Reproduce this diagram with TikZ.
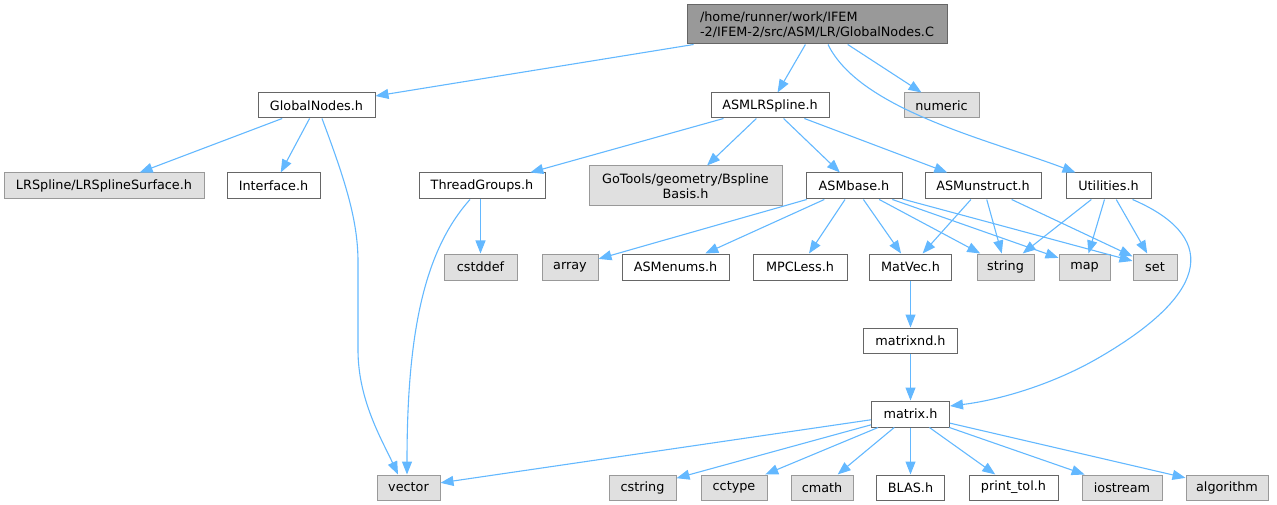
\documentclass[tikz,border=0pt]{standalone}
\usepackage{fontspec}
\setmainfont{DejaVu Sans}
\usetikzlibrary{arrows.meta}
\definecolor{edgecol}{HTML}{63B8FF}
\definecolor{sysfill}{HTML}{E0E0E0}
\definecolor{sysdraw}{HTML}{999999}
\definecolor{filedraw}{HTML}{666666}
\definecolor{mainfill}{HTML}{999999}
\begin{document}
\begin{tikzpicture}[x=1pt,y=-1pt,
  box/.style={draw=filedraw, fill=white, line width=1pt, inner sep=0pt,
    font=\fontsize{12.8}{15}\selectfont, minimum height=25pt},
  sys/.style={box, draw=sysdraw, fill=sysfill},
  mainbox/.style={box, fill=mainfill, draw=filedraw},
  dep/.style={draw=edgecol, line width=1.1pt, -{Triangle[length=13pt,width=10pt]}},
]
\useasboundingbox (0,0) rectangle (1277,505);
% row 0
\node[mainbox, minimum width=260pt, minimum height=39pt, align=left] (c) at (817,24.5)
  {/home/runner/work/IFEM\\-2/IFEM-2/src/ASM/LR/GlobalNodes.C};
% row 1
\node[box, minimum width=117pt] (gnh) at (316.5,105.5) {GlobalNodes.h};
\node[box, minimum width=118pt] (asmlr) at (770,105.5) {ASMLRSpline.h};
\node[sys, minimum width=75pt] (numeric) at (941.5,105.5) {numeric};
% row 2
\node[sys, minimum width=200pt, minimum height=26pt] (lrs) at (104,186) {LRSpline/LRSplineSurface.h};
\node[box, minimum width=93pt, minimum height=26pt] (iface) at (273.5,186) {Interface.h};
\node[box, minimum width=126pt, minimum height=26pt] (thread) at (482,186) {ThreadGroups.h};
\node[sys, minimum width=193pt, minimum height=40pt, align=center] (gotools) at (685.5,186) {GoTools/geometry/Bspline\\Basis.h};
\node[box, minimum width=96pt, minimum height=26pt] (asmbase) at (854,186) {ASMbase.h};
\node[box, minimum width=116pt, minimum height=26pt] (asmun) at (983,186) {ASMunstruct.h};
\node[box, minimum width=85pt, minimum height=26pt] (util) at (1108.5,186) {Utilities.h};
% row 3
\node[sys, minimum width=73pt, minimum height=26pt] (cstddef) at (480.5,267) {cstddef};
\node[sys, minimum width=56pt, minimum height=26pt] (array) at (570,267) {array};
\node[box, minimum width=107pt, minimum height=26pt] (asmenums) at (675.5,267) {ASMenums.h};
\node[box, minimum width=94pt, minimum height=26pt] (mpc) at (800,267) {MPCLess.h};
\node[box, minimum width=82pt, minimum height=26pt] (matvec) at (910.5,267) {MatVec.h};
\node[sys, minimum width=57pt, minimum height=26pt] (string) at (1005.5,267) {string};
\node[sys, minimum width=51pt, minimum height=26pt] (map) at (1084.5,267) {map};
\node[sys, minimum width=44pt, minimum height=26pt] (set) at (1155,267) {set};
% row 4,5
\node[box, minimum width=94pt] (matrixnd) at (910.5,340.5) {matrixnd.h};
\node[box, minimum width=78pt, minimum height=26pt] (matrix) at (910.5,414) {matrix.h};
% row 6
\node[sys, minimum width=63pt] (vector) at (408.5,487.5) {vector};
\node[sys, minimum width=67pt] (cstring) at (642.5,487.5) {cstring};
\node[sys, minimum width=66pt] (cctype) at (734,487.5) {cctype};
\node[sys, minimum width=62pt] (cmath) at (822,487.5) {cmath};
\node[box, minimum width=68pt] (blas) at (910.5,487.5) {BLAS.h};
\node[box, minimum width=89pt] (printtol) at (1013.5,487.5) {print\_tol.h};
\node[sys, minimum width=80pt] (iostream) at (1122,487.5) {iostream};
\node[sys, minimum width=82pt] (algorithm) at (1227,487.5) {algorithm};

% edges
\draw[dep] (c) -- (gnh);
\draw[dep] (c) -- (asmlr);
\draw[dep] (c) -- (numeric);
\draw[dep] ([xshift=11pt]c.south) .. controls (860,110) and (990,140) .. ([xshift=-33pt]util.north);
\draw[dep] (gnh) -- (lrs);
\draw[dep] (gnh) -- (iface);
\draw[dep] ([xshift=5.5pt]gnh.south) .. controls (345,180) and (358,220) .. (358,262)
  -- (358,350) .. controls (358,400) and (382,440) .. ([xshift=-10.5pt]vector.north);
\draw[dep] (asmlr) -- (thread);
\draw[dep] (asmlr) -- (gotools);
\draw[dep] (asmlr) -- (asmbase);
\draw[dep] (asmlr) -- (asmun);
\draw[dep] (thread.south -| cstddef) -- (cstddef.north);
\draw[dep] ([xshift=-12pt]thread.south) .. controls (425,250) and (407,330) .. ([xshift=-1.5pt]vector.north);
\draw[dep] (asmbase) -- (array);
\draw[dep] (asmbase) -- (asmenums);
\draw[dep] (asmbase) -- (mpc);
\draw[dep] (asmbase) -- (matvec);
\draw[dep] (asmbase) -- (string);
\draw[dep] (asmbase) -- (map);
\draw[dep] (asmbase) -- (set);
\draw[dep] (asmun) -- (matvec);
\draw[dep] (asmun) -- (string);
\draw[dep] (asmun) -- (set);
\draw[dep] (util) -- (string);
\draw[dep] (util) -- (map);
\draw[dep] (util) -- (set);
\draw[dep] ([xshift=24pt]util.south) .. controls (1215,235) and (1215,290) .. (1100,357)
  .. controls (1054,384) and (1000,400) .. ([yshift=8pt]matrix.east);
\draw[dep] (matvec) -- (matrixnd);
\draw[dep] (matrixnd) -- (matrix);
\draw[dep] (matrix) -- (vector);
\draw[dep] (matrix) -- (cstring);
\draw[dep] (matrix) -- (cctype);
\draw[dep] (matrix) -- (cmath);
\draw[dep] (matrix) -- (blas);
\draw[dep] (matrix) -- (printtol);
\draw[dep] (matrix) -- (iostream);
\draw[dep] (matrix) -- (algorithm);
\end{tikzpicture}
\end{document}
